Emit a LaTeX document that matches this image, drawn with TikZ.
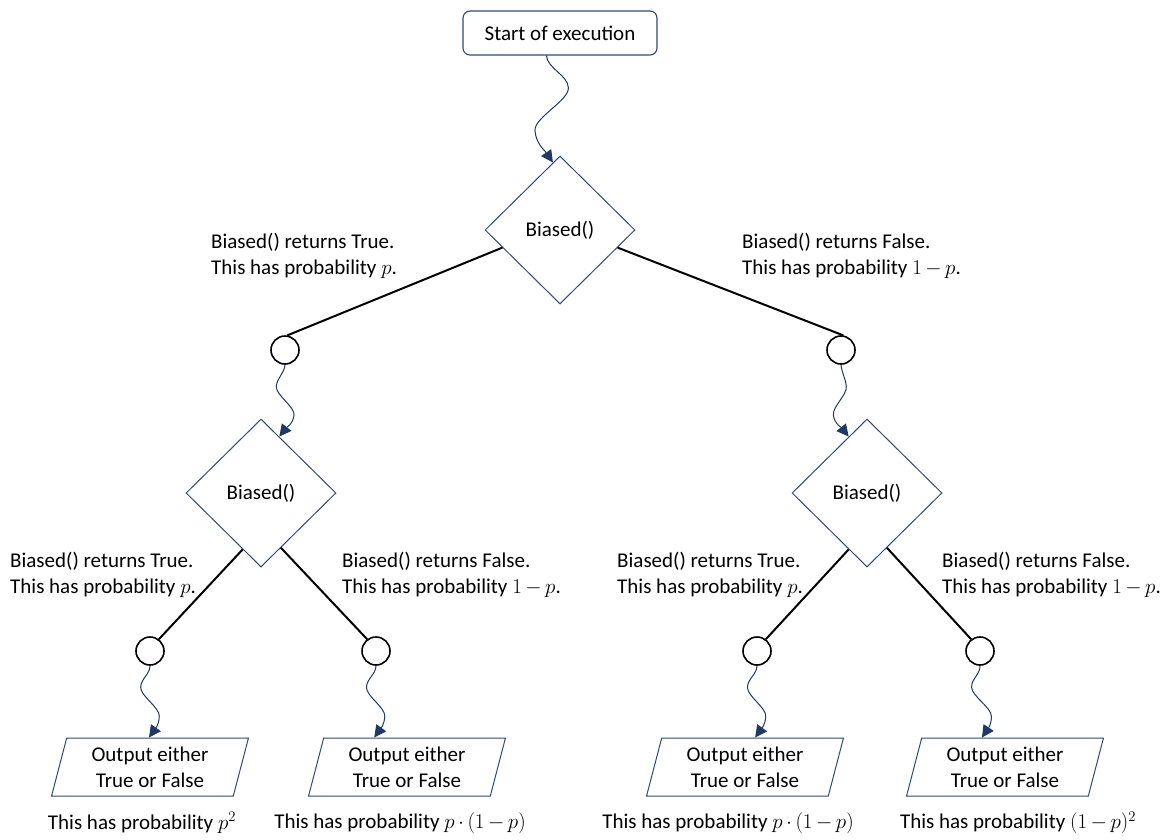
\documentclass[tikz,border=0pt]{standalone}
\usepackage{fix-cm}
\usepackage{fontspec}
\setmainfont{Carlito}
\usetikzlibrary{shapes.geometric,arrows.meta,calc}
\definecolor{navy}{HTML}{1F3864}
\definecolor{edgeblue}{HTML}{2F4A78}
\medmuskip=3mu plus 2mu minus 3mu

\begin{document}
\begin{tikzpicture}[x=1pt,y=-1pt,
  font=\fontsize{21}{26.4}\selectfont,
  every node/.style={inner sep=0pt},
  startbox/.style={draw=edgeblue,line width=1.1pt,rounded corners=7pt,
    minimum width=194pt,minimum height=44pt},
  decision/.style={draw=edgeblue,line width=1pt,diamond,
    minimum width=150pt,minimum height=148pt},
  junction/.style={draw=black,line width=1.6pt,circle,minimum size=28pt},
  outbox/.style={draw=edgeblue,line width=1pt,trapezium,
    trapezium left angle=75.5,trapezium right angle=104.5,
    trapezium stretches=true,minimum width=197pt,minimum height=58pt,
    align=center},
  branch/.style={draw=black,line width=2pt},
  edgetext/.style={align=left,anchor=west},
  flow/.style={draw=navy,line width=1pt,-{Triangle[length=12pt,width=12pt]}},
  % wavy connector: first bump offset, second bump offset, end bend
  wave/.style n args={3}{to path={
    .. controls ($(\tikztostart)!0.12!(\tikztotarget)$)
             and ($(\tikztostart)!0.18!(\tikztotarget)+(#1,0)$)
    .. ($(\tikztostart)!0.3!(\tikztotarget)+(#1,0)$)
    .. controls ($(\tikztostart)!0.42!(\tikztotarget)+(#1,0)$)
             and ($(\tikztostart)!0.58!(\tikztotarget)+(#2,0)$)
    .. ($(\tikztostart)!0.7!(\tikztotarget)+(#2,0)$)
    .. controls ($(\tikztostart)!0.82!(\tikztotarget)+(#2,0)$)
             and ($(\tikztostart)!0.88!(\tikztotarget)+(#3,0)$)
    .. (\tikztotarget)}},
]
\useasboundingbox (0,0) rectangle (1164,839);

% start and decisions
\node[startbox] (st) at (560,33) {Start of execution};
\node[decision] (d0) at (560,230) {Biased()};
\node[decision] (d1) at (261,493) {Biased()};
\node[decision] (d2) at (867,493) {Biased()};

% junction circles
\node[junction] (c1) at (285,350) {};
\node[junction] (c2) at (841,350) {};
\node[junction] (c3) at (150,651) {};
\node[junction] (c4) at (376,651) {};
\node[junction] (c5) at (757,651) {};
\node[junction] (c6) at (980,651) {};

% outputs
\node[outbox] (o1) at (150,767) {Output either\\True or False};
\node[outbox] (o2) at (407,767) {Output either\\True or False};
\node[outbox] (o3) at (745,767) {Output either\\True or False};
\node[outbox] (o4) at (1005,767) {Output either\\True or False};

% branch texts
\node[edgetext] (l1) at (211,256) {Biased() returns True.\\This has probability $p$.};
\node[edgetext] (l2) at (742,256) {Biased() returns False.\\This has probability $1-p$.};
\node[edgetext] (l3) at (10,575) {Biased() returns True.\\This has probability $p$.};
\node[edgetext] (l4) at (342,575) {Biased() returns False.\\This has probability $1-p$.};
\node[edgetext] (l5) at (617,575) {Biased() returns True.\\This has probability $p$.};
\node[edgetext] (l6) at (942,575) {Biased() returns False.\\This has probability $1-p$.};

% outcome probabilities
\node (p1) at (142,823) {This has probability $p^2$};
\node (p2) at (400,823) {This has probability $p\cdot(1-p)$};
\node (p3) at (728,823) {This has probability $p\cdot(1-p)$};
\node (p4) at (1018,823) {This has probability $(1-p)^2$};

% branches
\draw[branch] (d0.197) -- (c1.81);
\draw[branch] (d0.343) -- (c2.81);
\draw[branch] (d1.252) -- (c3.53);
\draw[branch] (d1.290) -- (c4.127);
\draw[branch] (d2.252) -- (c5.53);
\draw[branch] (d2.290) -- (c6.127);

% flow arrows
\draw[flow] (st.239) to[wave={20}{-16}{-8}] (d0.96);
\draw[flow] (c1.south) to[wave={-7}{13}{6}] (d1.72);
\draw[flow] (c2.south) to[wave={3}{-13}{-6}] (d2.108);
\draw[flow] (c3.south) to[wave={-9}{10}{6}] (o1.92);
\draw[flow] (c4.south) to[wave={-9}{10}{6}] (o2.138);
\draw[flow] (c5.south) to[wave={-9}{10}{6}] (o3.71);
\draw[flow] (c6.south) to[wave={-9}{10}{6}] (o4.128);
\end{tikzpicture}
\end{document}
